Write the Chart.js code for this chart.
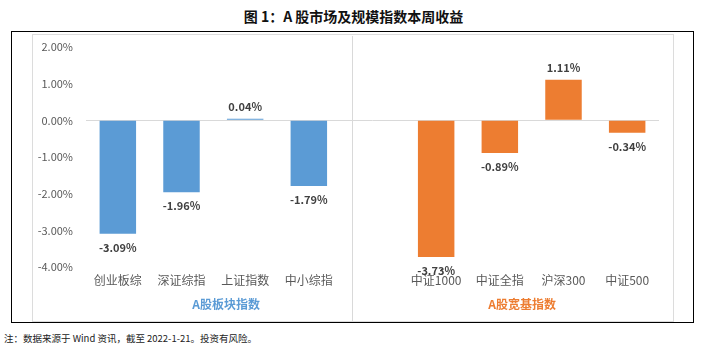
<!DOCTYPE html>
<html>
<head>
<meta charset="utf-8">
<script src="https://cdn.jsdelivr.net/npm/chart.js@4/dist/chart.umd.min.js"></script>
<style>
  body { margin: 0; width: 707px; height: 351px; background: #fff; position: relative; overflow: hidden; font-family: "Noto Sans CJK SC", sans-serif; }
  #title { position: absolute; left: 0; top: 6px; width: 707px; text-align: center; font-size: 14px; font-weight: bold; color: #111; }
  #outer { position: absolute; left: 11px; top: 31px; width: 681px; height: 290px; border: 1.5px solid #000; }
  #inner { position: absolute; left: 32px; top: 34px; width: 640px; height: 286px; border: 1px solid #dcdcdc; }
  #wrap { position: absolute; left: 33px; top: 35px; width: 640px; height: 286px; }
  #note { position: absolute; left: 4px; top: 331px; font-size: 9.5px; color: #222; }
</style>
</head>
<body>
<div id="title">图 1：A 股市场及规模指数本周收益</div>
<div id="outer"></div>
<div id="inner"></div>
<div id="wrap"><canvas id="chart" width="640" height="286"></canvas></div>
<div id="note">注：数据来源于 Wind 资讯，截至 2022-1-21。投资有风险。</div>

<script>
// ================= DATA =================
const boardNames = ["创业板综", "深证综指", "上证指数", "中小综指"];
const boardReturns = [-3.09, -1.96, 0.04, -1.79];

const broadNames = ["中证1000", "中证全指", "沪深300", "中证500"];
const broadReturns = [-3.73, -0.89, 1.11, -0.34];

const groupNames = ["A股板块指数", "A股宽基指数"];
const yTicks = [2, 1, 0, -1, -2, -3, -4];

const BLUE = "#5B9BD5";
const ORANGE = "#ED7D31";


// ================= BUILD =================
// one empty slot between the two groups
const labels = [...boardNames, "", ...broadNames];
const values = [...boardReturns, null, ...broadReturns];
const colors = labels.map((l, i) => (i <= boardNames.length ? BLUE : ORANGE));


// ================= PLUGINS =================
const valueLabels = {
  id: "valueLabels",
  afterDatasetsDraw(chart) {
    const ctx = chart.ctx;
    const meta = chart.getDatasetMeta(0);
    ctx.save();
    ctx.font = "bold 11px 'Noto Sans CJK SC'";
    ctx.fillStyle = "#404040";
    ctx.textAlign = "center";
    ctx.textBaseline = "middle";
    meta.data.forEach((bar, i) => {
      const v = values[i];
      if (v === null) return;
      const y = v >= 0 ? bar.y - 12 : bar.y + 14;
      ctx.fillText(v.toFixed(2) + "%", bar.x, y);
    });
    ctx.restore();
  }
};

const groupDecor = {
  id: "groupDecor",
  beforeDatasetsDraw(chart) {
    const ctx = chart.ctx;
    const x = chart.scales.x;
    // panel divider
    const dx = Math.round(x.getPixelForValue(3.68)) + 0.5;
    ctx.save();
    ctx.strokeStyle = "#d9d9d9";
    ctx.lineWidth = 1;
    ctx.beginPath();
    ctx.moveTo(dx, 1);
    ctx.lineTo(dx, chart.height);
    ctx.stroke();
    ctx.restore();
  },
  afterDraw(chart) {
    const ctx = chart.ctx;
    const x = chart.scales.x;
    const y = x.bottom + 15;
    ctx.save();
    ctx.font = "bold 12px 'Noto Sans CJK SC'";
    ctx.textAlign = "center";
    ctx.textBaseline = "middle";
    ctx.fillStyle = BLUE;
    ctx.fillText(groupNames[0], x.getPixelForValue(1.7), y);
    ctx.fillStyle = ORANGE;
    ctx.fillText(groupNames[1], x.getPixelForValue(6.35), y);
    ctx.restore();
  }
};


// ================= CHART =================
new Chart(document.getElementById("chart"), {
  type: "bar",
  data: {
    labels,
    datasets: [{
      data: values,
      backgroundColor: colors,
      categoryPercentage: 1,
      barPercentage: 0.573
    }]
  },
  options: {
    responsive: false,
    animation: false,
    layout: { padding: { top: 12, right: 14, bottom: 32, left: 0 } },
    plugins: {
      legend: { display: false },
      tooltip: { enabled: false }
    },
    scales: {
      x: {
        grid: { display: false, drawTicks: false },
        border: { display: false },
        ticks: {
          color: "#595959",
          font: { family: "Noto Sans CJK SC", size: 12 },
          padding: 6,
          maxRotation: 0,
          autoSkip: false
        },
        afterFit(scale) { scale.height = 22; }
      },
      y: {
        min: -4,
        max: 2,
        afterBuildTicks(scale) { scale.ticks = yTicks.map(v => ({ value: v })); },
        grid: {
          drawTicks: false,
          color: c => (c.tick && c.tick.value === 0 ? "#d9d9d9" : "rgba(0,0,0,0)")
        },
        border: { display: false },
        ticks: {
          color: "#595959",
          font: { family: "Noto Sans CJK SC", size: 11 },
          padding: 13,
          callback: v => v.toFixed(2) + "%"
        },
        afterFit(scale) {
          scale.width = 53;
          scale.paddingTop = 0;
          scale.paddingBottom = 0;
        }
      }
    }
  },
  plugins: [groupDecor, valueLabels]
});
</script>
</body>
</html>
